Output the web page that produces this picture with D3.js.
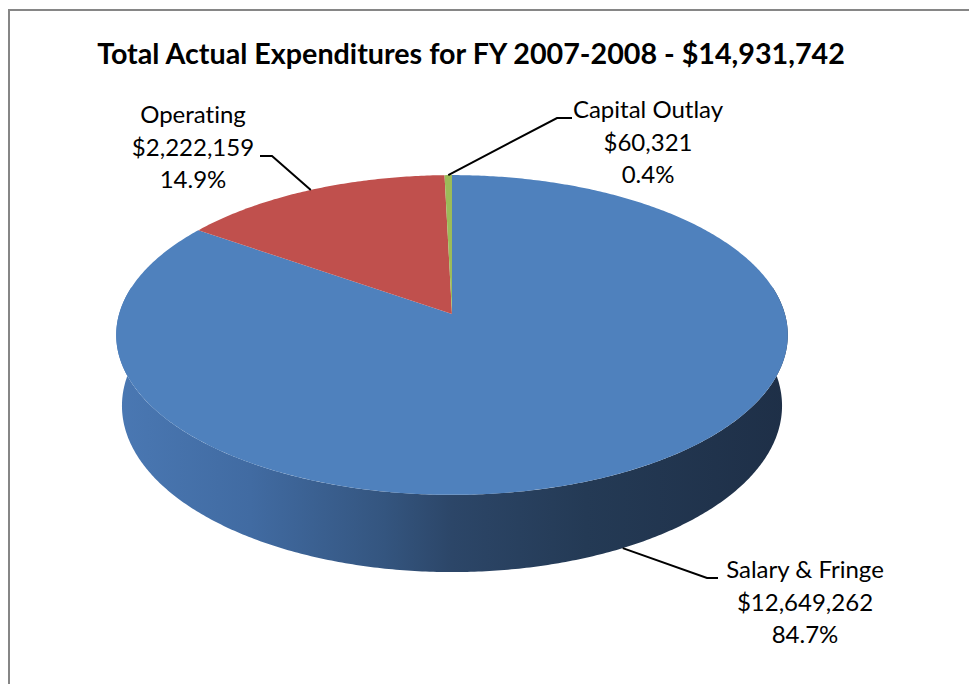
<!DOCTYPE html>
<html>
<head>
<meta charset="utf-8">
<script src="https://cdn.jsdelivr.net/npm/d3@7"></script>
<style>
  body { margin: 0; background: #fff; }
  text { font-family: Lato, "Open Sans", sans-serif; fill: #000; font-variant-ligatures: none; }
</style>
</head>
<body>
<div id="chart"></div>
<script>
// data
const categories = ["Salary & Fringe", "Operating", "Capital Outlay"];
const values = [12649262, 2222159, 60321];
const colors = ["#4f81bd", "#c0504d", "#9bbb59"];
const titleText = "Total Actual Expenditures for FY 2007-2008 - $14,931,742";

const width = 969, height = 684;

let svg = d3.select("#chart")
    .append("svg")
    .attr("width", width)
    .attr("height", height);

// chart frame
svg.append("rect")
    .attr("x", 9).attr("y", 10)
    .attr("width", 1000).attr("height", 1000)
    .attr("fill", "none")
    .attr("stroke", "#868686")
    .attr("stroke-width", 2);

svg.append("text")
    .attr("x", 471).attr("y", 64)
    .attr("text-anchor", "middle")
    .style("font-weight", "bold")
    .style("font-size", "28.7px")
    .text(titleText);

// 3d perspective of a unit disc
const cx = 452, cy = 314;
const s = 0.472, c = Math.sqrt(1 - s * s);
const D = 6.72, F = 2237, h = 0.2437;

function proj(X, Y, Z) {
    let depth = D - Y * s - Z * c;
    return [cx + F * X / depth, cy - F * (Y * c - Z * s) / depth];
}
function rim(a, Y) {
    return proj(Math.sin(a), Y, -Math.cos(a));
}
function arcPts(a0, a1, Y) {
    let n = Math.max(2, Math.ceil(Math.abs(a1 - a0) / 0.01));
    return d3.range(n + 1).map(i => rim(a0 + (a1 - a0) * i / n, Y));
}

let pie = d3.pie().sort(null).value(d => d)(values);
let total = d3.sum(values);
let fmtMoney = d3.format("$,");
let fmtPct = d3.format(".1%");

// side gradient
let grad = svg.append("defs").append("linearGradient")
    .attr("id", "side")
    .attr("gradientUnits", "userSpaceOnUse")
    .attr("x1", 116).attr("x2", 788).attr("y1", 0).attr("y2", 0);
[[0, "#4a78b3"], [0.2, "#416ba2"], [0.4, "#34557f"], [0.5, "#2c4668"], [0.7, "#243a55"], [1, "#1e2f47"]]
    .forEach(st => grad.append("stop").attr("offset", st[0]).attr("stop-color", st[1]));

// outer wall (front part only, the rest is hidden under the top)
let a0 = Math.PI * 80 / 180, a1 = Math.PI * 280 / 180;
let wall = arcPts(a0, a1, 0).concat(arcPts(a1, a0, -h));
svg.append("path")
    .attr("d", "M" + wall.map(p => p.join(",")).join("L") + "Z")
    .attr("fill", "url(#side)");

// top faces
svg.append("g")
    .selectAll("path")
    .data(pie)
    .join("path")
    .attr("fill", (d, i) => colors[i])
    .attr("d", d => {
        let pts = [proj(0, 0, 0)].concat(arcPts(d.startAngle, d.endAngle, 0));
        return "M" + pts.map(p => p.join(",")).join("L") + "Z";
    });

// labels with leader lines
const labelPos = [
    {x: 805, y: 578, elbow: [718, 578], knee: [707, 578], rimY: -h},
    {x: 193, y: 123, elbow: [260, 156], knee: [272, 156], rimY: 0},
    {x: 648, y: 118, elbow: [572, 118], knee: [557, 118], rimY: 0}
];

pie.forEach((d, i) => {
    let lp = labelPos[i];
    let mid = (d.startAngle + d.endAngle) / 2;
    let anchor = rim(mid, lp.rimY);
    svg.append("path")
        .attr("d", "M" + anchor.join(",") + "L" + lp.knee.join(",") + "L" + lp.elbow.join(","))
        .attr("fill", "none")
        .attr("stroke", "#000")
        .attr("stroke-width", 2);

    let t = svg.append("text")
        .attr("text-anchor", "middle")
        .style("font-size", "24px");
    [categories[i], fmtMoney(values[i]), fmtPct(values[i] / total)].forEach((line, k) => {
        t.append("tspan")
            .attr("x", lp.x)
            .attr("y", lp.y + k * 32.5)
            .text(line);
    });
});
</script>
</body>
</html>
